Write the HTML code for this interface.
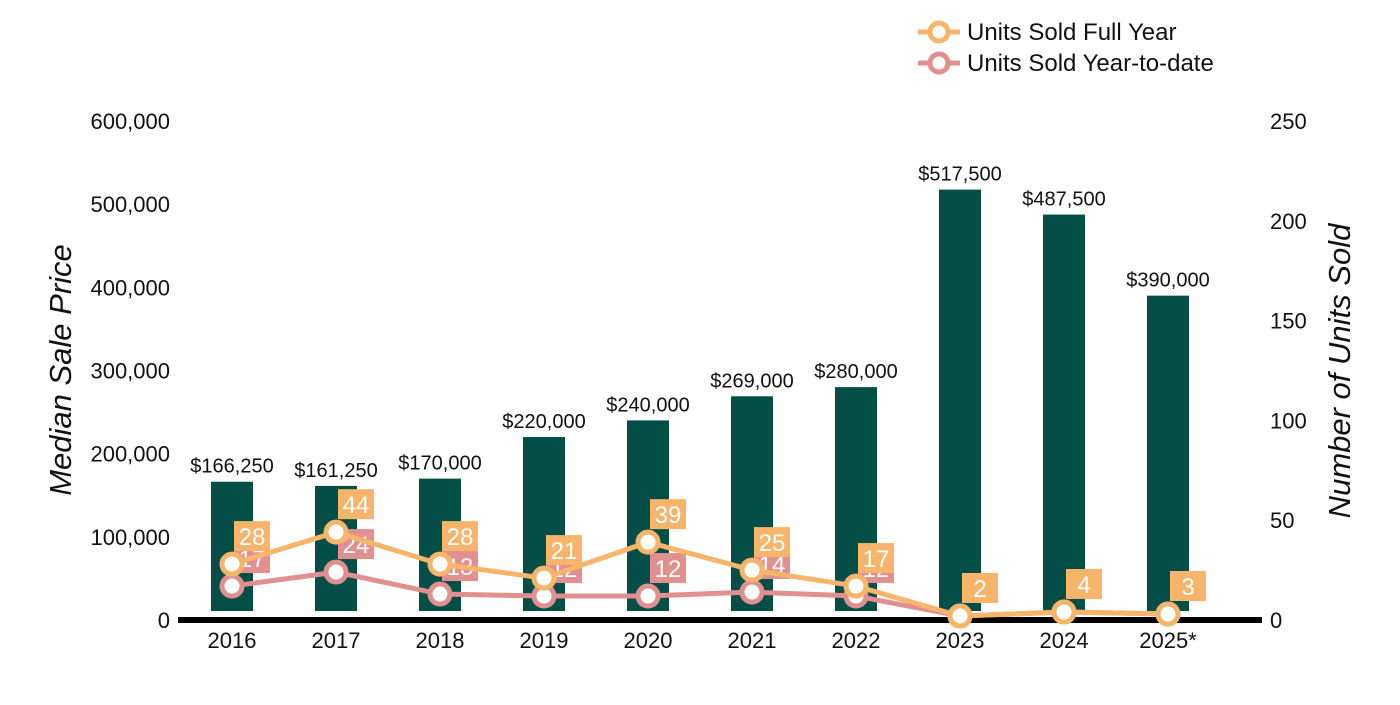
<!DOCTYPE html>
<html><head><meta charset="utf-8"><style>
body{margin:0;background:#fff;}
svg text{font-family:"Liberation Sans",Arial,sans-serif;}
</style></head><body>
<svg id="chart" width="1400" height="700" xmlns="http://www.w3.org/2000/svg">
<g id="legend">
  <g>
    <line x1="918" y1="32" x2="960" y2="32" stroke="#F7B56B" stroke-width="5"/>
    <circle cx="939" cy="32" r="9" fill="#fff" stroke="#F7B56B" stroke-width="5"/>
    <text x="967" y="40" font-size="24" fill="#111">Units Sold Full Year</text>
  </g>
  <g>
    <line x1="918" y1="63" x2="960" y2="63" stroke="#E0908F" stroke-width="5"/>
    <circle cx="939" cy="63" r="9" fill="#fff" stroke="#E0908F" stroke-width="5"/>
    <text x="967" y="71" font-size="24" fill="#111">Units Sold Year-to-date</text>
  </g>
</g>
<text transform="translate(71,370) rotate(-90)" text-anchor="middle" font-size="31" font-style="italic" fill="#111">Median Sale Price</text>
<text transform="translate(1350,371) rotate(-90)" text-anchor="middle" font-size="31" font-style="italic" fill="#111">Number of Units Sold</text>
<g id="axes"></g>
<g id="bars"></g>
<g id="lines"></g>
</svg>
<script>
const categories=["2016","2017","2018","2019","2020","2021","2022","2023","2024","2025*"];
const prices=[166250,161250,170000,220000,240000,269000,280000,517500,487500,390000];
const priceLabels=["$166,250","$161,250","$170,000","$220,000","$240,000","$269,000","$280,000","$517,500","$487,500","$390,000"];
const fullYear=[28,44,28,21,39,25,17,2,4,3];
const ytd=[17,24,13,12,12,14,12,2,4,3];
const leftTicks=[0,100000,200000,300000,400000,500000,600000];
const rightTicks=[0,50,100,150,200,250];

const NS="http://www.w3.org/2000/svg";
const y0=620,yTop=121;
const yL=v=>y0-(v/600000)*(y0-yTop);
const yR=v=>y0-(v/250)*(y0-yTop);
const xC=i=>232+i*104;
function mk(tag,attrs,parent,txt){const e=document.createElementNS(NS,tag);for(const k in attrs)e.setAttribute(k,attrs[k]);if(txt!==undefined)e.textContent=txt;parent.appendChild(e);return e;}
const axes=document.getElementById('axes'),bars=document.getElementById('bars'),lines=document.getElementById('lines');
leftTicks.forEach(t=>{const e=mk('text',{x:170,y:yL(t)+8,'text-anchor':'end','font-size':22,fill:'#111'},axes,t.toLocaleString('en-US'));

});
rightTicks.forEach(t=>{const e=mk('text',{x:1270,y:yR(t)+8,'text-anchor':'start','font-size':22,fill:'#111'},axes,String(t));

});
categories.forEach((c,i)=>{const e=mk('text',{x:xC(i),y:648,'text-anchor':'middle','font-size':22,fill:'#111'},axes,c);

});
prices.forEach((p,i)=>{const r=mk('rect',{x:xC(i)-21,y:yL(p),width:42,height:611-yL(p),fill:'#034E46'},bars);


const t=mk('text',{x:xC(i),y:yL(p)-9,'text-anchor':'middle','font-size':20,fill:'#111'},bars,priceLabels[i]);

});
const axisLine=mk('line',{x1:178,y1:620,x2:1262,y2:620,stroke:'#000','stroke-width':6},axes);


function series(vals,color,name){
  const pl=mk('polyline',{points:vals.map((v,i)=>xC(i)+','+yR(v)).join(' '),fill:'none',stroke:color,'stroke-width':5},lines);
  
  
  vals.forEach((v,i)=>{const c=mk('circle',{cx:xC(i),cy:yR(v),r:10,fill:'#fff',stroke:color,'stroke-width':5},lines);
  
  });
}
function labels(vals,color,name){
  vals.forEach((v,i)=>{const x=xC(i)+2,y=yR(v)-43;
  const g=mk('g',{},lines);
  
  
  mk('rect',{x:x,y:y,width:36,height:30,fill:color},g);
  mk('text',{x:x+18,y:y+24,'text-anchor':'middle','font-size':24,fill:'#fff'},g,String(v));});
}
labels(ytd,'#E0908F','ytd');
series(ytd,'#E0908F','ytd');
labels(fullYear,'#F7B56B','full-year');
series(fullYear,'#F7B56B','full-year');
</script>
</body></html>
